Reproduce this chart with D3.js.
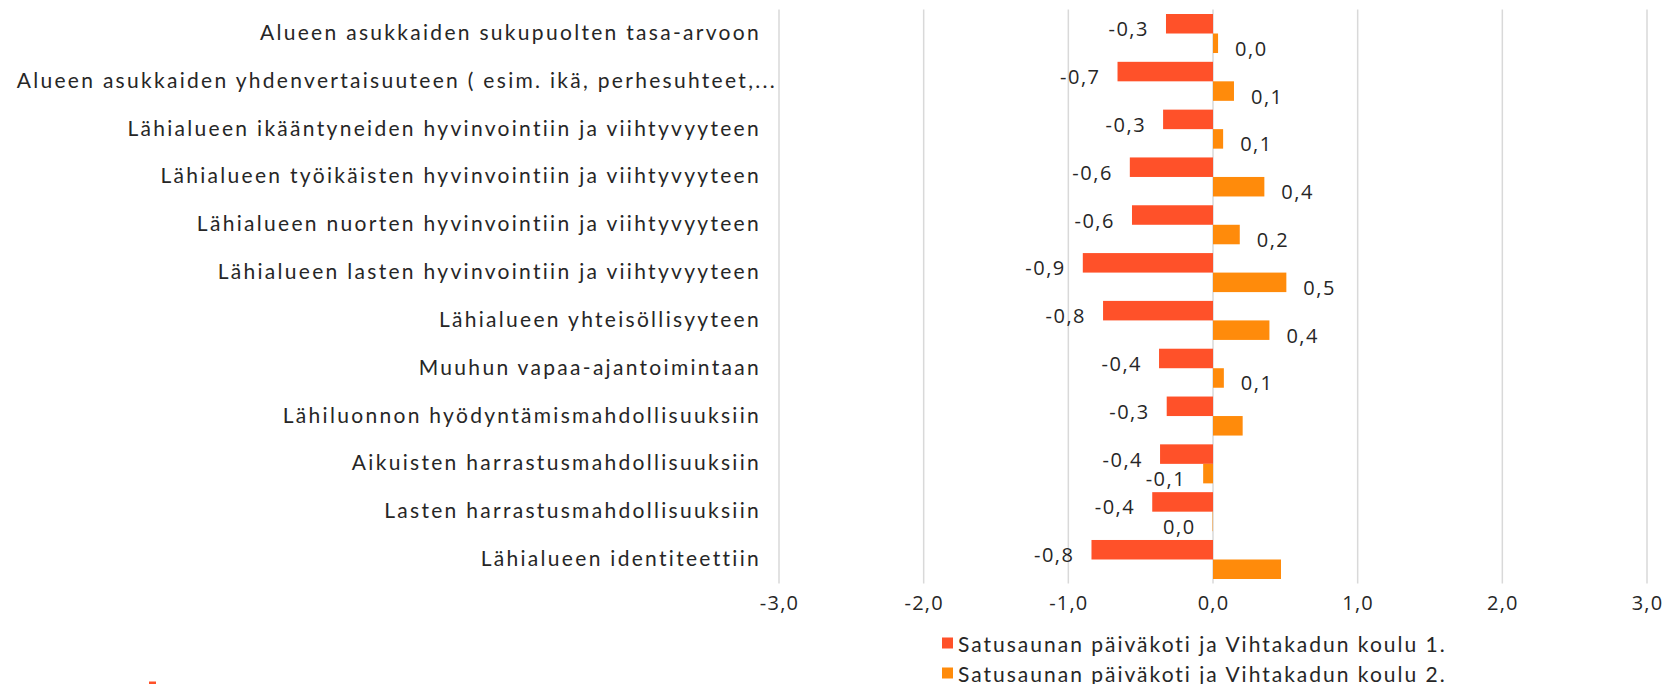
<!DOCTYPE html>
<html>
<head>
<meta charset="utf-8">
<script src="https://cdn.jsdelivr.net/npm/d3@7"></script>
<style>
  html, body { margin: 0; padding: 0; background: #fff; }
  svg { display: block; }
</style>
</head>
<body>
<svg id="chart" width="1667" height="684"></svg>
<script>
const categories = [
  "Alueen asukkaiden sukupuolten tasa-arvoon",
  "Alueen asukkaiden yhdenvertaisuuteen ( esim. ikä, perhesuhteet,...",
  "Lähialueen ikääntyneiden hyvinvointiin ja viihtyvyyteen",
  "Lähialueen työikäisten hyvinvointiin ja viihtyvyyteen",
  "Lähialueen nuorten hyvinvointiin ja viihtyvyyteen",
  "Lähialueen lasten hyvinvointiin ja viihtyvyyteen",
  "Lähialueen yhteisöllisyyteen",
  "Muuhun vapaa-ajantoimintaan",
  "Lähiluonnon hyödyntämismahdollisuuksiin",
  "Aikuisten harrastusmahdollisuuksiin",
  "Lasten harrastusmahdollisuuksiin",
  "Lähialueen identiteettiin"
];
const seriesNames = [
  "Satusaunan päiväkoti ja Vihtakadun koulu 1.",
  "Satusaunan päiväkoti ja Vihtakadun koulu 2."
];
const series1 = [-0.325, -0.66, -0.345, -0.575, -0.56, -0.90, -0.76, -0.373, -0.32, -0.366, -0.42, -0.84];
const series2 = [0.035, 0.145, 0.07, 0.355, 0.185, 0.507, 0.39, 0.075, 0.205, -0.068, -0.003, 0.47];
const labels1 = ["-0,3", "-0,7", "-0,3", "-0,6", "-0,6", "-0,9", "-0,8", "-0,4", "-0,3", "-0,4", "-0,4", "-0,8"];
const labels2 = ["0,0", "0,1", "0,1", "0,4", "0,2", "0,5", "0,4", "0,1", "", "-0,1", "0,0", ""];
const tickValues = [-3, -2, -1, 0, 1, 2, 3];
const tickLabels = ["-3,0", "-2,0", "-1,0", "0,0", "1,0", "2,0", "3,0"];
const colors = ["#FF5129", "#FF8B0B"];

const svg = d3.select("#chart");
const catFont = "Lato, 'Noto Sans', sans-serif";
const numFont = "'Open Sans', 'Noto Sans', sans-serif";

const x = d3.scaleLinear().domain([-3, 3]).range([779, 1647]);
const y = d3.scaleBand().domain(categories).range([9.6, 583.4]).paddingInner(0.184).paddingOuter(0.092);
const ySub = d3.scaleBand().domain([0, 1]).range([0, y.bandwidth()]);

// gridlines
svg.append("g").selectAll("line").data(tickValues).join("line")
  .attr("x1", d => x(d)).attr("x2", d => x(d))
  .attr("y1", 9.6).attr("y2", 583.4)
  .attr("stroke", "#d9d9d9").attr("stroke-width", 1.5);

// x axis tick labels
const xAxis = d3.axisBottom(x).tickValues(tickValues).tickFormat((d, i) => tickLabels[i]).tickSize(0).tickPadding(0);
const gx = svg.append("g").attr("transform", "translate(0,596)").call(xAxis);
gx.select(".domain").remove();
gx.selectAll("text").attr("font-family", numFont).attr("font-size", 20).attr("fill", "#262626")
  .attr("letter-spacing", 1.2).attr("dy", "0.71em");

// category labels
svg.append("g").selectAll("text").data(categories).join("text")
  .attr("x", (d, i) => i === 1 ? 777 : 761)
  .attr("y", d => y(d) + y.bandwidth() / 2 - 2)
  .attr("text-anchor", "end")
  .attr("dominant-baseline", "central")
  .attr("font-family", catFont).attr("font-size", 21).attr("letter-spacing", 2.3)
  .attr("fill", "#262626")
  .text(d => d);

const all = [series1, series2];
const labs = [labels1, labels2];
all.forEach((vals, s) => {
  const g = svg.append("g");
  g.selectAll("rect").data(vals).join("rect")
    .attr("x", d => x(Math.min(0, d)))
    .attr("width", d => Math.abs(x(d) - x(0)))
    .attr("y", (d, i) => y(categories[i]) + ySub(s))
    .attr("height", ySub.bandwidth())
    .attr("fill", colors[s]);
  g.selectAll("text").data(vals).join("text")
    .attr("x", d => d < 0 ? x(d) - 17 : x(d) + 17)
    .attr("y", (d, i) => y(categories[i]) + ySub(s) + ySub.bandwidth() / 2 + 5)
    .attr("text-anchor", d => d < 0 ? "end" : "start")
    .attr("dominant-baseline", "central")
    .attr("font-family", numFont).attr("font-size", 20).attr("letter-spacing", 1.5)
    .attr("fill", "#262626")
    .text((d, i) => labs[s][i]);
});

// legend
const lg = svg.append("g").selectAll("g").data(seriesNames).join("g")
  .attr("transform", (d, i) => `translate(942,${643 + i * 30})`);
lg.append("rect").attr("x", 0).attr("y", -5.5).attr("width", 11).attr("height", 11)
  .attr("fill", (d, i) => colors[i]);
lg.append("text").attr("x", 16).attr("y", 0).attr("dominant-baseline", "central")
  .attr("font-family", catFont).attr("font-size", 21).attr("letter-spacing", 2.0)
  .attr("fill", "#262626").text(d => d);

// small cropped mark at bottom-left
svg.append("rect").attr("x", 149).attr("y", 681.5).attr("width", 7).attr("height", 2.5).attr("fill", colors[0]);
</script>
</body>
</html>
